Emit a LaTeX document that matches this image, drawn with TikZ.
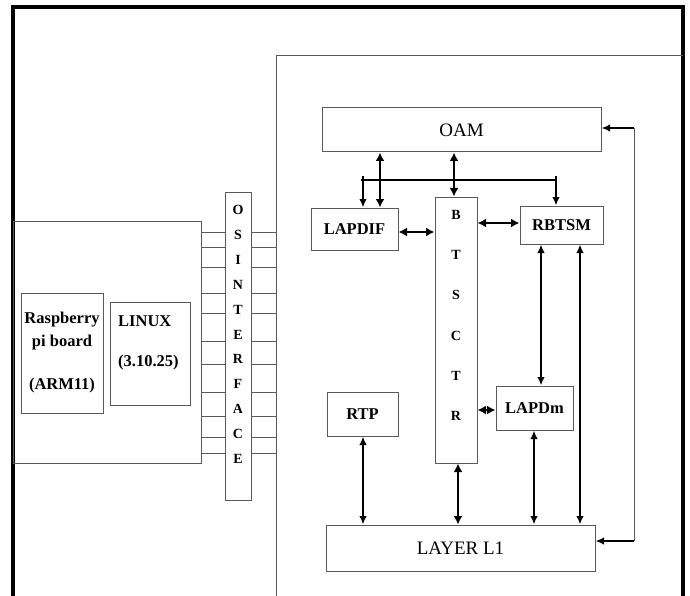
\documentclass[tikz,border=0pt]{standalone}
\usepackage{fontspec}
\setmainfont{Liberation Serif}
\usetikzlibrary{arrows.meta,calc}
\begin{document}
\begin{tikzpicture}[x=1pt,y=-1pt,
  box/.style={draw=black!65, line width=1pt, inner sep=0pt, rectangle},
  lbl/.style={font=\fontsize{16.5}{23}\selectfont\bfseries},
  big/.style={font=\fontsize{19}{21}\selectfont},
  letter/.style={font=\fontsize{14}{15}\selectfont\bfseries, inner sep=0pt},
  thickarr/.style={{Latex[length=8.5pt,width=9pt]}-{Latex[length=8.5pt,width=9pt]}, line width=2.8pt},
  thinarr/.style={{Latex[length=8.5pt,width=7.5pt]}-{Latex[length=8.5pt,width=7.5pt]}, line width=1.7pt},
  downarr/.style={-{Latex[length=8.5pt,width=7.5pt]}, line width=1.7pt},
  onearr/.style={-{Latex[length=8.5pt,width=7.5pt]}, line width=2pt},
  wire/.style={draw=black!65, line width=1pt},
]
\useasboundingbox (0,0) rectangle (690,596);
% frame
\draw[line width=4.5pt] (13,596) -- (13,7) -- (683,7) -- (683,596);
\coordinate (inner) at (276,56);
\draw[wire] (276,596) -- (inner) -- (683,56);

% left board
\node[box, minimum width=188pt, minimum height=242pt] (board) at (107,342) {};
\node[box, lbl, align=center, minimum width=82pt, minimum height=120pt] (rasp) at (62,353) {Raspberry\\pi board\\[20pt](ARM11)};
\node[box, minimum width=80pt, minimum height=103pt] (linux) at (150,353.5) {};
\node[lbl, anchor=base west, inner sep=0pt] (linuxt) at (118,326) {LINUX};
\node[lbl, anchor=base west, inner sep=0pt] (linuxv) at (118,366) {(3.10.25)};

% OSI interface
\node[box, minimum width=26pt, minimum height=308pt] (osi) at (238,346) {};
\foreach \l [count=\i] in {O,S,I,N,T,E,R,F,A,C,E}
  \node[letter] (osi\i) at (238,{210+24.9*(\i-1)}) {\l};
\foreach \y in {232,247,267,293,313,341,364,392,416,437,453} {
  \draw[wire] (board.east |- 0,\y) -- (osi.west |- 0,\y);
  \draw[wire] (osi.east |- 0,\y) -- (inner |- 0,\y);
}

% right blocks
\node[box, big, minimum width=279pt, minimum height=44pt] (oam) at (461.5,130) {OAM};
\node[box, lbl, minimum width=87pt, minimum height=42pt] (lapdif) at (354.5,229) {LAPDIF};
\node[box, minimum width=42pt, minimum height=266pt] (bts) at (456,330) {};
\foreach \l [count=\i] in {B,T,S,C,T,R}
  \node[letter] (bts\i) at (456,{215+40.2*(\i-1)}) {\l};
\node[box, lbl, minimum width=83pt, minimum height=38pt] (rbtsm) at (561.5,225) {RBTSM};
\node[box, lbl, minimum width=77pt, minimum height=44pt] (lapdm) at (534.5,408) {LAPDm};
\node[box, lbl, minimum width=71pt, minimum height=44pt] (rtp) at (362.5,414) {RTP};
\node[box, big, minimum width=269pt, minimum height=46pt] (l1) at (460.5,548) {LAYER L1};

% connectors
\draw[thickarr] (oam.south -| 380,0) -- (lapdif.north -| 380,0);
\coordinate (busL) at (363,176);
\coordinate (busR) at (556,176);
\coordinate (busM) at (361,180);
\draw[downarr] (busL) -- (lapdif.north -| busL);
\draw[line width=1.2pt] (busM) -- (busM -| busR);
\draw[downarr] (busR) -- (rbtsm.north -| busR);
\draw[thickarr] (oam.south -| 454,0) -- (bts.north -| 454,0);
\draw[thickarr] (lapdif.east |- 0,232) -- (bts.west |- 0,232);
\draw[thickarr] (bts.east |- 0,223) -- (rbtsm.west |- 0,223);
\draw[thinarr] (rbtsm.south -| 541,0) -- (lapdm.north -| 541,0);
\draw[thinarr] (rbtsm.south -| 580,0) -- (l1.north -| 580,0);
\coordinate (lt) at (634,128);
\coordinate (lb) at (634,541);
\draw[draw=black!65, line width=1pt] (lt) -- (lb);
\draw[onearr] (lt) -- (oam.east |- lt);
\draw[onearr] (lb) -- (l1.east |- lb);
\draw[thickarr] (bts.east |- 0,410) -- (lapdm.west |- 0,410);
\draw[thinarr] (rtp.south -| 363,0) -- (l1.north -| 363,0);
\draw[thickarr] (bts.south -| 458,0) -- (l1.north -| 458,0);
\draw[thinarr] (lapdm.south -| 534,0) -- (l1.north -| 534,0);
\end{tikzpicture}
\end{document}
